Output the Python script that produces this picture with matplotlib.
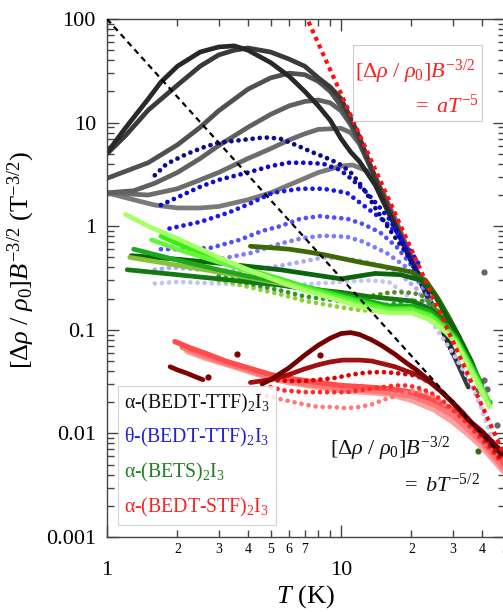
import matplotlib

matplotlib.use("Agg")

import matplotlib.pyplot as plt
from matplotlib.lines import Line2D
from matplotlib.patches import Rectangle
from matplotlib.ticker import FixedLocator, FixedFormatter, NullFormatter
import numpy as np

plt.rcParams["font.family"] = ["Liberation Serif", "DejaVu Serif"]
plt.rcParams["mathtext.fontset"] = "custom"
plt.rcParams["mathtext.rm"] = "Liberation Serif"
plt.rcParams["mathtext.it"] = "Liberation Serif:italic"
plt.rcParams["mathtext.bf"] = "Liberation Serif:bold"

# ---- alpha-(BEDT-TTF)2I3 (grey) ----
grey_T_a = [1, 1.2, 1.5, 1.7, 2, 2.5, 3, 3.5, 4, 5, 6, 7, 8, 9, 10, 11, 12, 14, 17, 20, 25, 30]
grey_V_a = [5.1, 8.9, 16.9, 24.6, 35, 48, 53.7, 55, 50, 38, 28, 20, 14.5, 10.5, 7, 5.2, 4.2, 2.5, 1.0, 0.45, 0.15, 0.06]
grey_T_b = [1, 1.2, 1.5, 2, 2.5, 3, 3.5, 4, 5, 6, 7, 8, 9, 10, 11, 12, 14, 17, 20, 25, 30, 35]
grey_V_b = [5.0, 7.5, 13.2, 23, 35, 45, 50, 52.5, 48, 41, 35, 27, 22, 17, 11, 7.2, 2.9, 1.05, 0.47, 0.15, 0.06, 0.028]
grey_T_c = [1, 1.5, 2, 2.5, 3, 4, 5, 6, 7, 8, 9, 10, 11, 12, 14, 17, 20, 25, 30]
grey_V_c = [2.9, 4.1, 6.1, 9, 13, 21, 27, 30, 29, 25, 20, 14.5, 10, 6.5, 3.0, 1.1, 0.48, 0.16, 0.063]
grey_T_d = [1, 1.3, 1.6, 2, 2.5, 3, 4, 5, 6, 7, 8, 9, 10, 11, 12, 14, 17, 20, 25, 30]
grey_V_d = [2.1, 2.2, 2.6, 3.3, 4.5, 6.0, 9.0, 12, 14.5, 16, 16.5, 15.5, 13, 9.5, 6.3, 2.9, 1.05, 0.46, 0.15, 0.06]
grey_T_e = [1, 1.5, 2, 2.5, 3, 4, 5, 6, 7, 8, 10, 11, 12, 14, 17, 20, 25, 30]
grey_V_e = [2.1, 2.0, 2.3, 2.8, 3.3, 4.5, 5.6, 6.8, 7.8, 8.6, 8.8, 8.0, 6.2, 3.0, 1.1, 0.46, 0.15, 0.06]
grey_T_f = [1, 1.3, 1.6, 2, 2.5, 3, 4, 5, 6, 7, 8, 10, 11.2, 13, 15, 17, 20, 25, 30]
grey_V_f = [2.1, 1.8, 1.6, 1.5, 1.5, 1.55, 1.8, 2.1, 2.5, 2.9, 3.3, 3.8, 3.9, 3.4, 2.2, 1.2, 0.5, 0.15, 0.06]
grey_pts_T = [36, 38, 39.5, 41, 42, 38.5, 40.5, 43, 46.6, 40.7]
grey_pts_V = [0.045, 0.034, 0.031, 0.033, 0.027, 0.026, 0.024, 0.02, 0.012, 0.36]

# ---- theta-(BEDT-TTF)2I3 (blue) ----
blue_T_1 = [1.6, 1.8, 2.2, 2.6, 3, 4, 4.7, 5.5, 6.5, 7.5, 9, 10, 11, 12, 13, 14, 16, 19, 21, 24]
blue_V_1 = [3.1, 4.0, 5.0, 5.8, 6.4, 6.9, 7.2, 7.0, 6.0, 5.2, 4.4, 3.9, 3.3, 2.6, 2.0, 1.5, 0.95, 0.55, 0.38, 0.22]
blue_T_2 = [1.7, 2, 2.5, 3, 4, 5, 6, 7, 8.4, 9.9, 11.2, 12.9, 14.7, 16.2, 18, 20, 22]
blue_V_2 = [1.6, 1.9, 2.4, 2.8, 3.3, 3.8, 4.1, 4.1, 4.0, 3.5, 2.8, 2.1, 1.5, 1.15, 0.75, 0.45, 0.3]
blue_T_3 = [1.85, 2.5, 3.3, 4.1, 5.1, 6.7, 8.4, 10.6, 12.9, 15.1, 17.3, 19.7, 22]
blue_V_3 = [0.95, 1.1, 1.35, 1.66, 2.1, 2.3, 2.3, 2.1, 1.5, 1.15, 0.87, 0.59, 0.4]
blue_T_4 = [1.7, 2.2, 2.8, 3.7, 4.6, 5.5, 6.7, 8.1, 10.6, 12.4, 14.7, 17.3, 20, 23]
blue_V_4 = [0.6, 0.6, 0.62, 0.74, 0.9, 1.0, 1.18, 1.25, 1.18, 1.05, 0.87, 0.63, 0.42, 0.26]
blue_T_5 = [2.2, 3, 4.1, 5.5, 6.9, 8.4, 10.6, 12.4, 15.7, 19.1, 22, 25]
blue_V_5 = [0.45, 0.48, 0.55, 0.68, 0.77, 0.81, 0.79, 0.71, 0.55, 0.40, 0.27, 0.17]
blue_T_6 = [1.6, 1.9, 2.5, 3.5, 5, 7, 8.4, 10, 11.7, 14.7, 18, 21, 24, 27]
blue_V_6 = [0.38, 0.4, 0.38, 0.37, 0.4, 0.46, 0.5, 0.49, 0.47, 0.42, 0.34, 0.25, 0.16, 0.1]
blue_T_7 = [1.6, 2, 3, 4, 6, 8, 10, 13, 16, 20, 25, 30, 35, 40, 44, 48]
blue_V_7 = [0.28, 0.29, 0.28, 0.27, 0.27, 0.28, 0.29, 0.3, 0.29, 0.2, 0.11, 0.06, 0.034, 0.017, 0.009, 0.005]

# ---- alpha-(BETS)2I3 (green) ----
green_T_1 = [1.2, 1.5, 2, 3, 4, 5.5, 7, 10, 13, 16, 20, 24, 28, 31, 34.5, 39, 43]
green_V_1 = [1.3, 1.0, 0.76, 0.5, 0.38, 0.29, 0.24, 0.19, 0.16, 0.145, 0.145, 0.125, 0.095, 0.075, 0.047, 0.028, 0.018]
green_T_2 = [1.55, 2, 3, 4, 5.5, 7, 10, 13, 16, 20, 24, 28, 31, 34.5, 39, 43]
green_V_2 = [0.74, 0.6, 0.45, 0.37, 0.3, 0.25, 0.2, 0.17, 0.155, 0.155, 0.135, 0.1, 0.078, 0.05, 0.03, 0.019]
green_T_3 = [1.7, 2, 3, 4, 5.5, 7, 10, 13, 16, 20, 24, 28, 31, 34.5, 39, 43]
green_V_3 = [0.8, 0.68, 0.48, 0.38, 0.31, 0.26, 0.21, 0.18, 0.16, 0.16, 0.14, 0.105, 0.08, 0.052, 0.031, 0.02]
green_T_4 = [1.3, 2, 3, 4, 5.5, 7, 10, 13, 16, 20, 24, 28, 31, 34.5, 39]
green_V_4 = [0.6, 0.47, 0.38, 0.33, 0.29, 0.26, 0.22, 0.19, 0.17, 0.17, 0.15, 0.11, 0.085, 0.055, 0.033]
green_T_5 = [1.25, 2, 3, 4, 5.5, 7, 10, 13, 16, 20, 24, 28, 31]
green_V_5 = [0.5, 0.42, 0.36, 0.32, 0.28, 0.25, 0.21, 0.18, 0.165, 0.16, 0.14, 0.1, 0.08]
green_T_6 = [1.27, 2, 3, 4, 5.5, 7, 10, 14, 18, 22, 25, 28, 32, 36, 40]
green_V_6 = [0.52, 0.48, 0.44, 0.41, 0.38, 0.35, 0.31, 0.35, 0.34, 0.3, 0.22, 0.14, 0.085, 0.05, 0.028]
green_T_7 = [1.22, 2, 3, 4, 5.5, 7, 10, 13, 16, 20, 24, 28]
green_V_7 = [0.38, 0.34, 0.31, 0.29, 0.27, 0.25, 0.23, 0.21, 0.2, 0.19, 0.16, 0.12]
olive_T = [4.1, 5, 6, 7, 8.5, 10, 12, 15, 18, 20, 23, 26, 29, 32]
olive_V = [0.64, 0.62, 0.6, 0.57, 0.53, 0.49, 0.45, 0.41, 0.38, 0.36, 0.3, 0.2, 0.13, 0.085]
greendot_T_1 = [3, 4, 5.5, 7, 8.4, 10, 12.4, 14, 16.2, 19, 21.8, 25, 28, 31, 35, 39]
greendot_V_1 = [0.36, 0.31, 0.27, 0.245, 0.23, 0.22, 0.21, 0.215, 0.23, 0.23, 0.22, 0.17, 0.12, 0.085, 0.05, 0.03]
greendot_T_2 = [3, 4, 5.5, 7, 9.9, 12, 13.7, 16, 19.1, 22, 24, 27, 30, 34, 38]
greendot_V_2 = [0.33, 0.28, 0.24, 0.21, 0.19, 0.175, 0.17, 0.175, 0.19, 0.19, 0.18, 0.14, 0.1, 0.06, 0.035]
greendot_T_3 = [3, 4, 5.5, 7, 10, 12, 14.7, 17, 20.3, 23, 26, 29, 32, 36, 40]
greendot_V_3 = [0.3, 0.26, 0.22, 0.19, 0.165, 0.155, 0.15, 0.152, 0.156, 0.15, 0.125, 0.095, 0.07, 0.042, 0.025]
green_pts_T = [38.4]
green_pts_V = [0.0068]

# ---- alpha-(BEDT-STF)2I3 (red) ----
red_T_l1 = [1.95, 2.3, 2.7, 3.2, 4, 5, 6, 8, 10, 13, 16, 20, 25, 30, 35, 40, 45, 50]
red_V_l1 = [0.077, 0.066, 0.058, 0.05, 0.043, 0.037, 0.034, 0.031, 0.029, 0.028, 0.027, 0.025, 0.021, 0.017, 0.013, 0.0095, 0.0068, 0.005]
red_T_l2 = [2.1, 2.5, 3, 4, 5, 6, 8, 10, 13, 16, 20, 25, 30, 35, 40, 45, 50]
red_V_l2 = [0.068, 0.058, 0.05, 0.041, 0.035, 0.032, 0.029, 0.027, 0.026, 0.025, 0.023, 0.019, 0.015, 0.011, 0.0082, 0.006, 0.0045]
red_T_l3 = [2.2, 2.6, 3, 4, 5, 6, 8, 10, 13, 16, 20, 25, 30, 35, 40, 45, 50]
red_V_l3 = [0.062, 0.054, 0.049, 0.04, 0.034, 0.031, 0.028, 0.026, 0.025, 0.024, 0.021, 0.017, 0.013, 0.0098, 0.0074, 0.0055, 0.0042]
darkred_T_1 = [4.6, 5, 6, 7, 8, 9, 10, 11, 12, 13.5, 15, 17, 19, 21, 24, 27, 30, 35, 40, 45, 50]
darkred_V_1 = [0.03, 0.033, 0.043, 0.057, 0.071, 0.083, 0.092, 0.094, 0.09, 0.08, 0.07, 0.058, 0.048, 0.041, 0.032, 0.025, 0.02, 0.0135, 0.0105, 0.008, 0.0063]
darkred_T_2 = [4.1, 5, 6, 7, 8, 9, 10.2, 12, 13.5, 15.1, 17, 19, 21, 24, 27, 29.2, 33, 37, 42, 47, 50]
darkred_V_2 = [0.031, 0.033, 0.037, 0.042, 0.046, 0.049, 0.051, 0.051, 0.05, 0.047, 0.044, 0.04, 0.037, 0.031, 0.025, 0.021, 0.016, 0.012, 0.0088, 0.0068, 0.006]
darkred_T_3 = [1.86, 2.0, 2.2, 2.4, 2.57]
darkred_V_3 = [0.044, 0.041, 0.038, 0.035, 0.033]
darkred_pts_T = [2.7, 3.59, 8.13]
darkred_pts_V = [0.035, 0.058, 0.057]
reddot_T_1 = [5, 6, 7, 8, 9.2, 10.5, 12, 13.7, 15.5, 17.5, 19.5, 21, 24, 27, 30, 34, 38, 43, 48]
reddot_V_1 = [0.033, 0.032, 0.032, 0.033, 0.034, 0.036, 0.038, 0.039, 0.039, 0.038, 0.037, 0.036, 0.031, 0.025, 0.02, 0.015, 0.011, 0.0078, 0.0058]
reddot_T_2 = [5, 5.7, 7, 8, 9.2, 10.5, 12, 13.5, 15.1, 17, 19, 21, 24, 27, 30, 34, 38, 43, 48]
reddot_V_2 = [0.028, 0.026, 0.025, 0.025, 0.025, 0.025, 0.026, 0.027, 0.028, 0.029, 0.029, 0.028, 0.025, 0.021, 0.017, 0.013, 0.0098, 0.0072, 0.0054]
reddot_T_3 = [4.5, 5.7, 7, 8, 9.2, 10.5, 12, 13.5, 15.1, 17, 19, 21, 24, 27, 30, 34, 38, 43, 48]
reddot_V_3 = [0.024, 0.021, 0.019, 0.018, 0.018, 0.0175, 0.018, 0.019, 0.021, 0.023, 0.025, 0.026, 0.024, 0.02, 0.016, 0.012, 0.009, 0.0066, 0.005]

# power-law guide lines
coef_a = 1.9e6   # aT^-5
coef_b = 100.0   # bT^-5/2
guide_T = [1, 50]

legend_labels = [
    r"$\mathrm{\alpha}$-(BEDT-TTF)$_2$I$_3$",
    r"$\mathrm{\theta}$-(BEDT-TTF)$_2$I$_3$",
    r"$\mathrm{\alpha}$-(BETS)$_2$I$_3$",
    r"$\mathrm{\alpha}$-(BEDT-STF)$_2$I$_3$",
]
legend_colors = ["#111111", "#1f1fdd", "#1e7d1e", "#ff2020"]

y_ticks = [0.001, 0.01, 0.1, 1, 10, 100]
y_ticklabels = ["0.001", "0.01", "0.1", "1", "10", "100"]
x_major = [1, 10]
x_major_labels = ["1", "10"]
x_minor = [2, 3, 4, 5, 6, 7, 8, 9, 20, 30, 40, 50]
x_minor_labels = ["2", "3", "4", "5", "6", "7", "", "", "2", "3", "4", "5"]

LW = 3.4
DOTS = (0, (0.01, 1.5))


def solid(ax, T, V, color, lw=LW, z=2):
    ax.plot(T, V, color=color, lw=lw, solid_capstyle="round", solid_joinstyle="round", zorder=z)


def dotted(ax, T, V, color, lw=LW, z=2):
    ax.plot(T, V, color=color, lw=lw, linestyle=DOTS, dash_capstyle="round", zorder=z)


fig = plt.figure(figsize=(5.03, 6.12), dpi=100, facecolor="white")
ax = fig.add_axes([107 / 503, 75 / 612, 397.6 / 503, 518 / 612])

# grey group
solid(ax, grey_T_f, grey_V_f, "#7a7a7a")
solid(ax, grey_T_e, grey_V_e, "#6c6c6c")
solid(ax, grey_T_d, grey_V_d, "#606060")
solid(ax, grey_T_c, grey_V_c, "#505050")
solid(ax, grey_T_b, grey_V_b, "#3a3a3a")
solid(ax, grey_T_a, grey_V_a, "#282828")
ax.plot(grey_pts_T, grey_pts_V, "o", color="#666666", ms=4.5, mec="none", zorder=2)

# blue group
dotted(ax, blue_T_7, blue_V_7, "#c2c2f7", z=3)
dotted(ax, blue_T_6, blue_V_6, "#a8a8ff", z=3)
dotted(ax, blue_T_5, blue_V_5, "#7b7bff", z=3)
dotted(ax, blue_T_4, blue_V_4, "#4f4fff", z=3)
dotted(ax, blue_T_3, blue_V_3, "#1818ee", z=3)
dotted(ax, blue_T_2, blue_V_2, "#0a0acc", z=3)
dotted(ax, blue_T_1, blue_V_1, "#0a0a8a", z=3)

# green group
dotted(ax, greendot_T_3, greendot_V_3, "#88d428", z=4)
dotted(ax, greendot_T_2, greendot_V_2, "#2c962c", z=4)
dotted(ax, greendot_T_1, greendot_V_1, "#5a8a1e", z=4)
solid(ax, olive_T, olive_V, "#3d6a05", z=4)
solid(ax, green_T_7, green_V_7, "#137a13", z=4)
solid(ax, green_T_6, green_V_6, "#0b650b", z=4)
solid(ax, green_T_5, green_V_5, "#86c436", z=4)
solid(ax, green_T_4, green_V_4, "#1fa81f", z=4)
solid(ax, green_T_3, green_V_3, "#33f012", z=4)
solid(ax, green_T_2, green_V_2, "#66f53a", z=4)
solid(ax, green_T_1, green_V_1, "#a8ff6a", z=4)
ax.plot(green_pts_T, green_pts_V, "o", color="#3d6a10", ms=4.5, mec="none", zorder=4)

# red group
solid(ax, red_T_l3, red_V_l3, "#ffa0a0", lw=4.2, z=5)
solid(ax, red_T_l2, red_V_l2, "#ff7878", lw=4.2, z=5)
solid(ax, red_T_l1, red_V_l1, "#ff4c4c", lw=3.8, z=5)
dotted(ax, reddot_T_3, reddot_V_3, "#ff7a7a", z=5)
dotted(ax, reddot_T_2, reddot_V_2, "#ff2a2a", z=5)
dotted(ax, reddot_T_1, reddot_V_1, "#dd0000", z=5)
solid(ax, darkred_T_2, darkred_V_2, "#a01010", z=5)
solid(ax, darkred_T_1, darkred_V_1, "#750000", z=5)
solid(ax, darkred_T_3, darkred_V_3, "#800000", z=5)
ax.plot(darkred_pts_T, darkred_pts_V, "o", color="#800000", ms=4.5, mec="none", zorder=5)

# guides
gT = np.array(guide_T, dtype=float)
gT = np.geomspace(gT[0], gT[1], 60)
ax.plot(gT, coef_b * gT ** -2.5, color="black", lw=1.6, linestyle=(0, (2.6, 2.0)), zorder=7)
ax.plot(gT, coef_a * gT ** -5.0, color="#ff1010", lw=3.0, linestyle=(0, (1.0, 1.0)), zorder=7)

# axes
ax.set_xscale("log")
ax.set_yscale("log")
ax.set_xlim(1, 50)
ax.set_ylim(0.001, 100)

ax.yaxis.set_major_locator(FixedLocator(y_ticks))
ax.yaxis.set_major_formatter(FixedFormatter(y_ticklabels))
ax.yaxis.set_minor_locator(FixedLocator([m * d for d in y_ticks[:-1] for m in range(2, 10)]))
ax.yaxis.set_minor_formatter(NullFormatter())
ax.xaxis.set_major_locator(FixedLocator(x_major))
ax.xaxis.set_major_formatter(FixedFormatter(x_major_labels))
ax.xaxis.set_minor_locator(FixedLocator(x_minor))
ax.xaxis.set_minor_formatter(FixedFormatter(x_minor_labels))

ax.tick_params(which="both", direction="in", top=True, right=True, color="#444444", width=1.0)
ax.tick_params(which="major", length=8.5)
ax.tick_params(which="minor", length=5)
ax.tick_params(axis="y", which="major", labelsize=16, pad=8)
ax.tick_params(axis="x", which="major", labelsize=16, pad=17)
ax.tick_params(axis="x", which="minor", labelsize=10, pad=4)
for spine in ax.spines.values():
    spine.set_color("#444444")
    spine.set_linewidth(1.0)

ax.set_ylabel(r"$[\Delta\rho\ /\ \rho_0]B^{-3/2}$ (T$^{-3/2}$)", fontsize=19)
ax.yaxis.set_label_coords(-0.175, 0.535)
ax.set_xlabel(r"$T$ (K)", fontsize=19)
ax.xaxis.set_label_coords(0.5, -0.09)

# legend (text only)
handles = [Line2D([], [], lw=0) for _ in legend_labels]
leg = ax.legend(handles, legend_labels, loc="lower left", bbox_to_anchor=(0.028, 0.023),
                borderaxespad=0, handlelength=0, handletextpad=0, fontsize=14.2,
                labelspacing=0.6, frameon=True, fancybox=False, edgecolor="#c8c8c8",
                borderpad=0.3)
leg.get_frame().set_linewidth(0.8)
leg.set_zorder(8)
for txt, c in zip(leg.get_texts(), legend_colors):
    txt.set_color(c)

# annotation box (aT^-5)
ax.add_patch(Rectangle((0.619, 0.803), 0.324, 0.147, transform=ax.transAxes,
                       facecolor="white", edgecolor="#cccccc", lw=0.8, zorder=8))
ax.text(0.624, 0.886, r"$[\Delta\rho\ /\ \rho_0]B^{-3/2}$", transform=ax.transAxes,
        color="#ff2020", fontsize=16, ha="left", va="baseline", zorder=9)
ax.text(0.936, 0.8185, r"$=\ aT^{-5}$", transform=ax.transAxes,
        color="#ff2020", fontsize=16, ha="right", va="baseline", zorder=9)

# annotation (bT^-5/2)
ax.text(0.561, 0.158, r"$[\Delta\rho\ /\ \rho_0]B^{-3/2}$", transform=ax.transAxes,
        color="#111111", fontsize=16, ha="left", va="baseline", zorder=9)
ax.text(0.938, 0.087, r"$=\ bT^{-5/2}$", transform=ax.transAxes,
        color="#111111", fontsize=16, ha="right", va="baseline", zorder=9)

fig.savefig("out.png", dpi=100)
